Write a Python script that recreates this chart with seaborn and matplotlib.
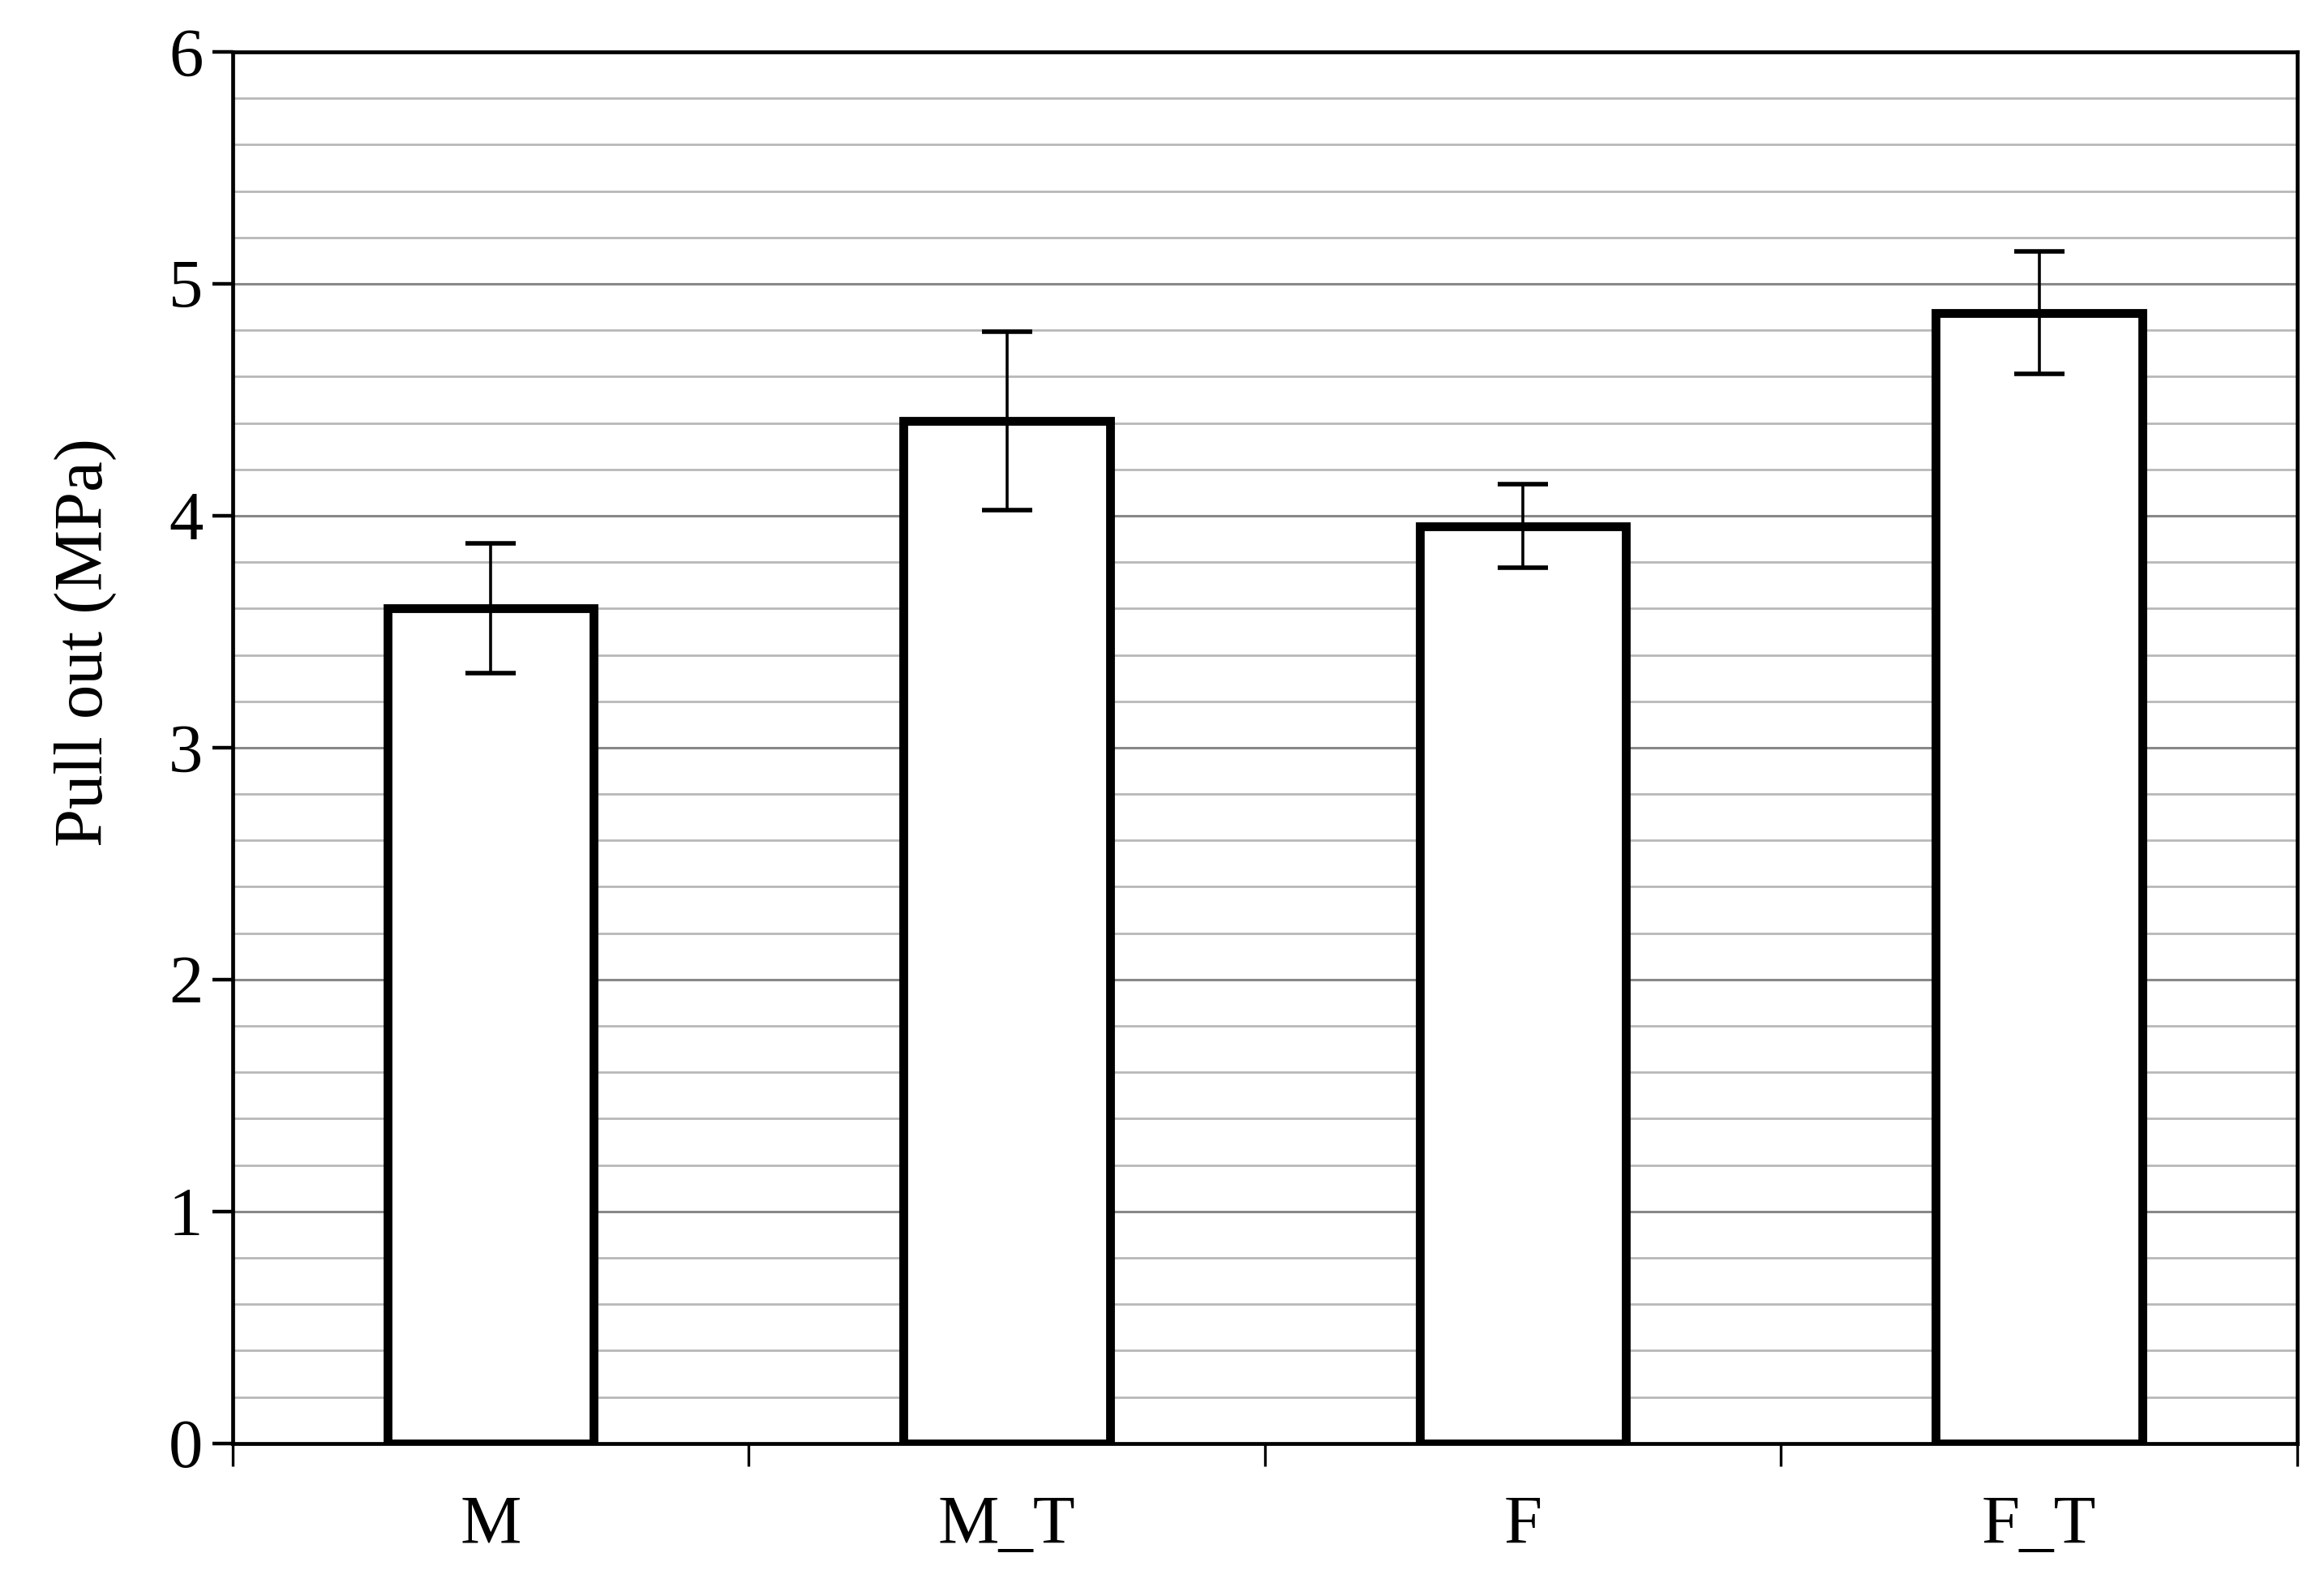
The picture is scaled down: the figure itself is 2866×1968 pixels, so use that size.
import matplotlib
matplotlib.use("Agg")
import matplotlib.pyplot as plt
import seaborn as sns
import numpy as np
import pandas as pd
from matplotlib.ticker import MultipleLocator

# values
groups = ["M", "M_T", "F", "F_T"]
pull_out = [3.60, 4.41, 3.955, 4.875]
pull_err = [0.28, 0.385, 0.18, 0.265]

df = pd.DataFrame({"group": groups, "pull": pull_out})

sns.set_style("white")
plt.rcParams['font.family'] = ['Liberation Serif', 'DejaVu Serif']
plt.rcParams['text.color'] = 'black'
plt.rcParams['axes.labelcolor'] = 'black'
plt.rcParams['xtick.color'] = 'black'
plt.rcParams['ytick.color'] = 'black'

fig, ax = plt.subplots(figsize=(14.33, 9.84), dpi=200)
fig.subplots_adjust(left=0.100, right=0.9885, top=0.9675, bottom=0.0956)

sns.barplot(data=df, x="group", y="pull", order=groups, color="white",
            edgecolor="black", linewidth=3.9, width=0.4, errorbar=None,
            ax=ax, zorder=3)
ax.errorbar(np.arange(len(groups)), pull_out, yerr=pull_err, fmt="none",
            ecolor="black", elinewidth=1.3, capsize=11, capthick=2.0, zorder=4)

ax.set_xlim(-0.5, 3.5)
ax.set_ylim(0, 6)
ax.yaxis.set_major_locator(MultipleLocator(1))
ax.yaxis.set_minor_locator(MultipleLocator(0.2))
ax.grid(which="minor", axis="y", color="#b8b8b8", linewidth=1.0)
ax.grid(which="major", axis="y", color="#888888", linewidth=1.1)
ax.set_axisbelow(True)

# labels at bar centers, tick marks between categories
ax.set_xticks(range(len(groups)))
ax.set_xticklabels(groups)
ax.set_xticks(np.arange(-0.5, 4, 1), minor=True)
ax.tick_params(axis="x", which="major", length=0, pad=23, labelsize=30.5,
               bottom=True)
ax.tick_params(axis="x", which="minor", length=10, width=1.2, color="black",
               direction="out", bottom=True)
ax.tick_params(axis="y", which="major", length=9, width=1.6, color="black",
               direction="out", left=True, labelsize=30.5, pad=4)
ax.tick_params(axis="y", which="minor", length=0)

for s in ax.spines.values():
    s.set_visible(True)
    s.set_color("black")
    s.set_linewidth(1.7)

ax.set_xlabel("")
ax.set_ylabel("Pull out (MPa)", fontsize=30.5)
ax.yaxis.set_label_coords(-0.056, 0.576)

fig.savefig("out.png", dpi=200, facecolor="white")
